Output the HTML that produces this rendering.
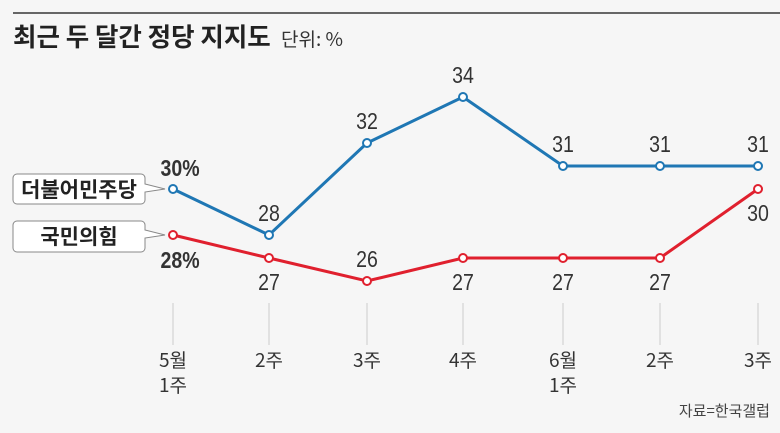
<!DOCTYPE html>
<html><head><meta charset="utf-8"><style>
html,body{margin:0;padding:0;background:#f6f6f6;}
svg{display:block;font-family:"Liberation Sans","Noto Sans CJK KR",sans-serif;}
</style></head><body>
<svg width="780" height="433" viewBox="0 0 780 433">
<rect width="780" height="433" fill="#f6f6f6"/>
<line x1="13" y1="13" x2="780" y2="13" stroke="#666" stroke-width="2"/>
<text x="13" y="46" font-size="25.5" font-weight="bold" fill="#222" font-family="'Noto Sans CJK KR',sans-serif">최근 두 달간 정당 지지도</text>
<text x="281" y="46" font-size="19" fill="#333" font-family="'Noto Sans CJK KR',sans-serif">단위: %</text>
<g stroke="#ccc" stroke-width="1">
<line x1="173" y1="303" x2="173" y2="345"/><line x1="269" y1="303" x2="269" y2="345"/><line x1="367" y1="303" x2="367" y2="345"/><line x1="463" y1="303" x2="463" y2="345"/><line x1="563" y1="303" x2="563" y2="345"/><line x1="660" y1="303" x2="660" y2="345"/><line x1="758" y1="303" x2="758" y2="345"/>
</g>
<polyline points="173,189 269,235 367,143 463,97 563,166 660,166 758,166" fill="none" stroke="#1f77b4" stroke-width="3"/>
<polyline points="173,235 269,258 367,281 463,258 563,258 660,258 758,189" fill="none" stroke="#e0202e" stroke-width="3"/>
<g fill="#fff" stroke="#1f77b4" stroke-width="2">
<circle cx="173" cy="189" r="4"/><circle cx="269" cy="235" r="4"/><circle cx="367" cy="143" r="4"/><circle cx="463" cy="97" r="4"/><circle cx="563" cy="166" r="4"/><circle cx="660" cy="166" r="4"/><circle cx="758" cy="166" r="4"/>
</g>
<g fill="#fff" stroke="#e0202e" stroke-width="2">
<circle cx="173" cy="235" r="4"/><circle cx="269" cy="258" r="4"/><circle cx="367" cy="281" r="4"/><circle cx="463" cy="258" r="4"/><circle cx="563" cy="258" r="4"/><circle cx="660" cy="258" r="4"/><circle cx="758" cy="189" r="4"/>
</g>
<g font-size="23" fill="#333" text-anchor="middle" transform="scale(0.85,1)">
<text x="211.8" y="176" font-weight="bold">30%</text>
<text x="316.5" y="221">28</text><text x="431.8" y="129">32</text><text x="544.7" y="83">34</text>
<text x="662.4" y="152">31</text><text x="776.5" y="152">31</text><text x="891.8" y="152">31</text>
<text x="211.8" y="268" font-weight="bold">28%</text>
<text x="316.5" y="290">27</text><text x="431.8" y="267">26</text><text x="544.7" y="290">27</text>
<text x="662.4" y="290">27</text><text x="776.5" y="290">27</text><text x="891.8" y="221">30</text>
</g>
<g fill="#fff" stroke="#888" stroke-width="1">
<path d="M17,174 H141 a4,4 0 0 1 4,4 V184 L165,189 L145,192 V200 a4,4 0 0 1 -4,4 H17 a4,4 0 0 1 -4,-4 V178 a4,4 0 0 1 4,-4Z"/>
<path d="M17,221 H141 a4,4 0 0 1 4,4 V230 L165,235 L145,238 V248 a4,4 0 0 1 -4,4 H17 a4,4 0 0 1 -4,-4 V225 a4,4 0 0 1 4,-4Z"/>
</g>
<g font-size="21" font-weight="bold" fill="#222" text-anchor="middle" font-family="'Noto Sans CJK KR',sans-serif">
<text x="79" y="197">더불어민주당</text>
<text x="79" y="244">국민의힘</text>
</g>
<g font-size="19" fill="#333" text-anchor="middle" font-family="'Noto Sans CJK KR',sans-serif">
<text x="173" y="367">5월</text><text x="173" y="392">1주</text>
<text x="269" y="367">2주</text><text x="367" y="367">3주</text><text x="463" y="367">4주</text>
<text x="563" y="367">6월</text><text x="563" y="392">1주</text>
<text x="660" y="367">2주</text><text x="758" y="367">3주</text>
</g>
<text x="770" y="416" font-size="15" fill="#444" text-anchor="end" font-family="'Noto Sans CJK KR',sans-serif">자료=한국갤럽</text>
</svg>
</body></html>
